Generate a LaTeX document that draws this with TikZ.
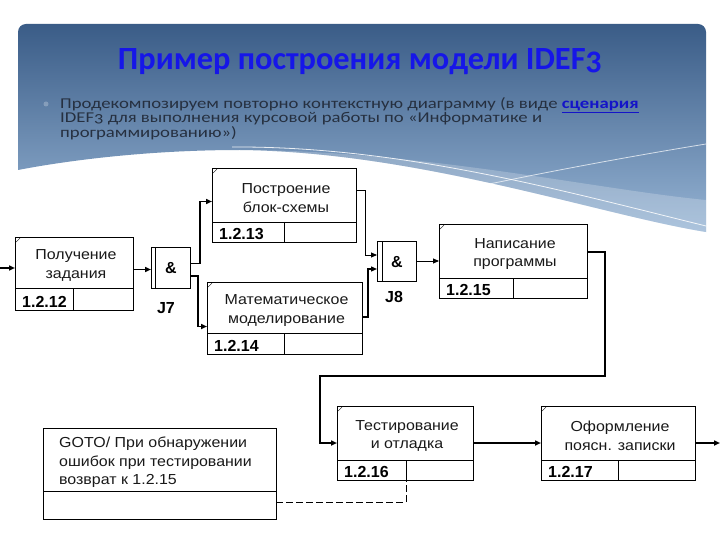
\documentclass[tikz,border=0pt]{standalone}
\usepackage{fontspec}
\usepackage{graphicx}
\setmainfont{Liberation Sans}
\newfontfamily\diagfont[FakeStretch=1.1]{Liberation Sans}
\newfontfamily\slidefont[Numbers=OldStyle]{Carlito}
\usetikzlibrary{arrows.meta}
\definecolor{bgtop}{RGB}{58,92,135}
\definecolor{bgbot}{RGB}{150,180,212}
\definecolor{titleblue}{RGB}{22,22,232}
\definecolor{bodytext}{RGB}{38,48,64}
\definecolor{linkblue}{RGB}{20,20,200}

\tikzset{
  uob/.style={draw=black, line width=0.9pt, fill=white, inner sep=0pt, outer sep=0pt},
  uobline/.style={draw=black, line width=0.9pt},
  tick/.style={draw=black, line width=0.4pt},
  junc/.style={draw=black, line width=0.9pt, fill=white, inner sep=0pt, outer sep=0pt, anchor=north west},
  conn/.style={draw=black, line width=1.7pt, -{Triangle[length=6pt,width=5pt]}},
  mconn/.style={draw=black, line width=1.3pt, -{Triangle[length=6pt,width=5pt]}},
  tconn/.style={draw=black, line width=0.9pt, -{Triangle[length=6pt,width=5pt]}},
  lbl/.style={font=\diagfont\fontsize{14.5}{18.5}\selectfont, align=center, inner sep=0pt, text=black!90},
  num/.style={font=\bfseries\fontsize{16}{18}\selectfont, anchor=base west, inner sep=0pt},
  amp/.style={font=\bfseries\fontsize{16}{18}\selectfont, inner sep=0pt},
  jlbl/.style={font=\bfseries\fontsize{16}{18}\selectfont, inner sep=0pt},
  bul/.style={font=\slidefont\fontsize{15}{15}\selectfont, text=bodytext, anchor=base west, inner sep=0pt},
}

\newcommand\bulline[1]{\scalebox{1.248}[1]{#1}}

% name, x1, y1, x2, y2, ydiv, xdiv, text, number
\newcommand\uobbox[9]{%
  \node[uob, anchor=north west, minimum width={(#4-#2)*1pt}, minimum height={(#5-#3)*1pt}] (#1) at (#2,#3) {};
  \draw[uobline] (#2,#6) -- (#4,#6) (#7,#6) -- (#7,#5);
  \draw[tick] (#2+1.2,#3+5) -- (#2+5,#3+1.2);
  \node[lbl] at ({(#2+#4)/2+2},{(#3+#6)/2+3}) {#8};
  \node[num] at (#2+7,#5-2.5) {#9};
  \coordinate (#1-div) at (#7,#5);
}

\begin{document}
\begin{tikzpicture}[x=1pt,y=-1pt]
\useasboundingbox (0,0) rectangle (720,540);
\fill[white] (0,0) rectangle (720,540);

% slide header background
\shade[top color=bgtop, bottom color=bgbot]
  (18,170) [rounded corners=8pt] -- (18,24) -- (706,24) [sharp corners] -- (706,232)
  .. controls (600,215) and (420,152) .. (240,150)
  .. controls (150,150) and (70,160) .. (18,170) -- cycle;
\fill[white, opacity=0.22]
  (240,150) .. controls (420,152) and (600,215) .. (706,232)
  -- (706,200) .. controls (600,190) and (420,150) .. (240,150) -- cycle;
\draw[white, line width=0.8pt, opacity=0.85]
  (232,147) .. controls (400,146) and (560,190) .. (706,226);
\draw[white, line width=0.8pt, opacity=0.7]
  (380,208) .. controls (500,180) and (620,158) .. (706,144);

% title
\node[font=\slidefont\bfseries\fontsize{32}{32}\selectfont, text=titleblue, anchor=base] (title) at (360,70)
  {\resizebox{484pt}{!}{Пример построения модели IDEF3}};

% bullet
\fill[white, opacity=0.25] (46,104) circle (2.5pt);
\node[bul] (l1) at (60,108.5) {\bulline{Продекомпозируем повторно контекстную диаграмму (в виде \textcolor{linkblue}{\bfseries\underline{сценария}}}};
\node[bul] (l2) at (60,123) {\bulline{IDEF3 для выполнения курсовой работы по «Информатике и}};
\node[bul] (l3) at (60,137.5) {\bulline{программированию»)}};

% UOB boxes
\uobbox{b12}{15}{237}{133}{310}{288}{73}{Получение\\задания}{1.2.12}
\uobbox{b13}{212}{168}{356}{242}{222}{284}{Построение\\блок-схемы}{1.2.13}
\uobbox{b14}{207}{282}{362}{354}{333}{284}{Математическое\\моделирование}{1.2.14}
\uobbox{b15}{439}{224}{587}{298}{278}{513}{Написание\\программы}{1.2.15}
\uobbox{b16}{337}{406}{473}{480}{460}{406}{Тестирование\\и отладка}{1.2.16}
\uobbox{b17}{541}{406}{695}{480}{460}{618}{Оформление\\поясн. записки}{1.2.17}

% GOTO referent box
\node[uob, anchor=north west, minimum width=233pt, minimum height=91pt] (goto) at (43,428) {};
\draw[uobline] (43,491) -- (276,491);
\node[lbl, align=left, anchor=north west] (gototext) at (59,437)
  {GOTO/ При обнаружении\\ошибок при тестировании\\возврат к 1.2.15};

% junctions
\node[junc, minimum width=39pt, minimum height=41pt] (j7) at (151,247) {};
\draw[uobline] (155.5,247) -- (155.5,288);
\node[amp] at (171,268.5) {\&};
\node[jlbl] at (166,308) {J7};

\node[junc, minimum width=39pt, minimum height=40pt] (j8) at (377,241) {};
\draw[uobline] (382,241) -- (382,281);
\node[amp] at (397,262) {\&};
\node[jlbl] at (394,297) {J8};

% connectors
\coordinate (in) at (0,268);
\draw[conn] (in) -- (in -| b12.west);
\draw[conn] ([yshift=-2pt]j7.west -| b12.east) -- ([yshift=-2pt]j7.west);
\draw[conn] ([yshift=4pt]j7.east) -- ++(10,0) |- ([yshift=3.5pt]b13.west);
\draw[conn] ([yshift=-8.5pt]j7.east) -- ++(8,0) |- ([yshift=-8.5pt]b14.west);
\draw[tconn] ([yshift=15pt]b13.east) -- ++(9,0) |- ([yshift=6pt]j8.west);
\draw[mconn] ([yshift=1pt]b14.east) -- ++(6,0) |- ([yshift=-8pt]j8.west);
\draw[tconn] (j8.east) -- (j8.east -| b15.west);
\coordinate (loop) at (320,376);
\draw[conn] ([yshift=9pt]b15.east) -- ++(18,0) |- (loop) |- (b16.west);
\draw[conn] (b16.east) -- (b17.west);
\coordinate (out) at (720,443);
\draw[conn] (b17.east) -- (out);
\draw[draw=black, line width=0.9pt, dash pattern=on 7pt off 3pt] ([yshift=-28.5pt]goto.east) -| (b16-div);
\end{tikzpicture}
\end{document}
